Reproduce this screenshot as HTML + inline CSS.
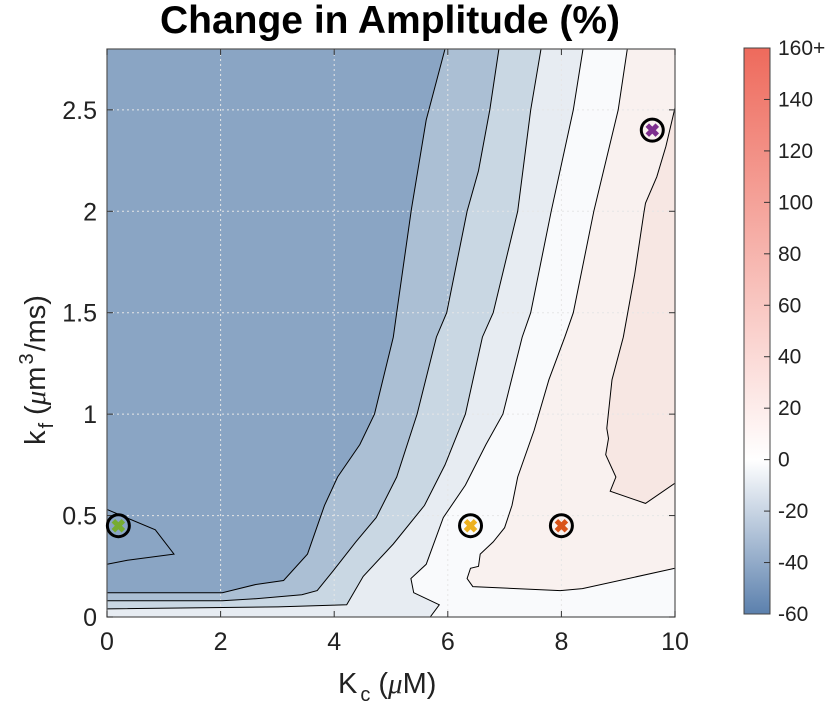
<!DOCTYPE html>
<html><head><meta charset="utf-8"><style>
body{margin:0;background:#fff;}
svg{display:block;font-family:"Liberation Sans",sans-serif;}
</style></head><body>
<svg id="chart" width="830" height="707" viewBox="0 0 830 707">
<defs>
<linearGradient id="cbg" x1="0" y1="1" x2="0" y2="0">
<stop offset="0" stop-color="#5b80ad"/>
<stop offset="0.2727" stop-color="#ffffff"/>
<stop offset="1" stop-color="#ee6a5c"/>
</linearGradient>
<clipPath id="plotclip"><rect x="107" y="49" width="568" height="568"/></clipPath>
</defs>
<text x="390" y="33" text-anchor="middle" font-size="39" font-weight="bold">Change in Amplitude (%)</text>
<g id="plot" clip-path="url(#plotclip)"></g>
<g id="axes"></g>
<g id="markers"></g>
<g id="cbar"></g>
</svg>
<script>
const xTicks=[0,2,4,6,8,10];
const yTicks=[0,0.5,1,1.5,2,2.5];
const cbTicks=[-60,-40,-20,0,20,40,60,80,100,120,140,160];
const cbLabels=["-60","-40","-20","0","20","40","60","80","100","120","140","160+"];
const lineA=[[5.95,2.8],[5.62,2.45],[5.36,2.01],[5.10,1.50],[5.04,1.38],[4.71,1.0],[4.45,0.85],[4.06,0.69],[3.83,0.55],[3.53,0.31],[3.11,0.18],[2.62,0.16],[2.03,0.12],[0,0.12]];
const lineB=[[6.90,2.8],[6.74,2.5],[6.54,2.2],[6.34,2.0],[5.98,1.5],[5.80,1.38],[5.46,1.0],[5.10,0.69],[4.74,0.49],[4.38,0.37],[3.99,0.23],[3.70,0.13],[3.43,0.11],[2.62,0.09],[2.03,0.08],[0,0.08]];
const lineC=[[7.64,2.8],[7.46,2.5],[7.23,2.0],[6.80,1.5],[6.61,1.38],[6.31,1.0],[5.95,0.75],[5.59,0.55],[5.04,0.36],[4.51,0.20],[4.22,0.06],[3.01,0.05],[0,0.04]];
const lineD=[[8.38,2.8],[8.21,2.5],[7.82,2.0],[7.46,1.5],[7.31,1.38],[6.97,1.0],[6.67,0.85],[6.31,0.65],[5.92,0.49],[5.62,0.26],[5.35,0.19],[5.40,0.12],[5.85,0.06],[5.69,0.0]];
const lineE=[[9.16,2.8],[9.0,2.5],[8.57,2.0],[8.21,1.5],[8.06,1.38],[7.78,1.17],[7.52,0.92],[7.23,0.69],[7.13,0.55],[7.0,0.44],[6.8,0.37],[6.57,0.31],[6.54,0.25],[6.4,0.24],[6.34,0.19],[6.44,0.15],[7.98,0.13],[8.37,0.14],[10,0.24]];
const lineF=[[10,2.51],[9.84,2.32],[9.68,2.17],[9.48,2.04],[9.45,1.99],[9.29,1.69],[9.09,1.38],[8.89,1.17],[8.8,0.93],[8.83,0.88],[8.78,0.80],[8.96,0.69],[8.86,0.62],[9.48,0.56],[10,0.66]];
const lineG=[[0,0.53],[0.85,0.43],[1.18,0.31],[0.36,0.28],[0,0.26]];
const markerKc=[0.2,6.4,8.0,9.6];
const markerKf=[0.45,0.45,0.45,2.4];
const markerColors=["#77ac30","#edb120","#d95319","#7e2f8e"];
const markerNames=["marker-green","marker-yellow","marker-orange","marker-purple"];

const X0=107,X1=675,Y0=617,Y1=49;
const sx=v=>X0+(v/10)*(X1-X0);
const sy=v=>Y0-(v/2.8)*(Y0-Y1);
const NS="http://www.w3.org/2000/svg";
function mk(tag,parent,attrs){const e=document.createElementNS(NS,tag);for(const k in attrs)e.setAttribute(k,attrs[k]);parent.appendChild(e);return e;}
const pts=a=>a.map(p=>sx(p[0]).toFixed(1)+","+sy(p[1]).toFixed(1)).join(" ");
const plot=document.getElementById('plot');
let bg=mk('rect',plot,{x:X0,y:Y1,width:X1-X0,height:Y0-Y1,fill:'#f9fafc'});


const regions=[
 [lineD.concat([[0,0],[0,2.8]]),'#e7ecf2','region-minus-10'],
 [lineC.concat([[0,2.8]]),'#c9d7e3','region-minus-20'],
 [lineB.concat([[0,2.8]]),'#abbfd4','region-minus-30'],
 [lineA.concat([[0,2.8]]),'#8aa5c4','region-minus-40'],
 [lineE.concat([[10,2.8]]),'#f9f1ef','region-plus-10'],
 [lineF,'#f7e7e3','region-plus-20']
];
regions.forEach(r=>{
 const e=mk('polygon',plot,{points:pts(r[0]),fill:r[1]});
 
 
});
xTicks.forEach(t=>{const e=mk('line',plot,{x1:sx(t),x2:sx(t),y1:Y1,y2:Y0,stroke:'#e6e6e6','stroke-dasharray':'2,3','stroke-width':1});
 
 });
yTicks.forEach(t=>{const e=mk('line',plot,{x1:X0,x2:X1,y1:sy(t),y2:sy(t),stroke:'#e6e6e6','stroke-dasharray':'2,3','stroke-width':1});
 
 });
[lineA,lineB,lineC,lineD,lineE,lineF,lineG].forEach(l=>{
 const e=mk('polyline',plot,{points:pts(l),fill:'none',stroke:'#000','stroke-width':1});
 
 
});
const axes=document.getElementById('axes');
let fr=mk('rect',axes,{x:X0,y:Y1,width:X1-X0,height:Y0-Y1,fill:'none',stroke:'#555','stroke-width':1.2});


xTicks.forEach(t=>{
 mk('line',axes,{x1:sx(t),x2:sx(t),y1:Y0,y2:Y0-6,stroke:'#333'});
 mk('line',axes,{x1:sx(t),x2:sx(t),y1:Y1,y2:Y1+6,stroke:'#333'});
 const e=mk('text',axes,{x:sx(t),y:Y0+33,'text-anchor':'middle','font-size':25,fill:'#222'});e.textContent=String(t);
 
 
});
yTicks.forEach(t=>{
 mk('line',axes,{x1:X0,x2:X0+6,y1:sy(t),y2:sy(t),stroke:'#333'});
 mk('line',axes,{x1:X1,x2:X1-6,y1:sy(t),y2:sy(t),stroke:'#333'});
 const e=mk('text',axes,{x:X0-10,y:sy(t)+9,'text-anchor':'end','font-size':25,fill:'#222'});e.textContent=String(t);
 
 
});
let xt=mk('text',axes,{x:338,y:693,'font-size':29,fill:'#222'});
xt.innerHTML='K<tspan font-size="20" dx="3" dy="8">c</tspan><tspan dx="8" dy="-8">(</tspan><tspan font-family="Liberation Serif" font-style="italic">μ</tspan>M)';


let yt=mk('text',axes,{x:0,y:0,'font-size':29,fill:'#222',transform:'translate(45,445) rotate(-90)'});
yt.innerHTML='k<tspan font-size="20" dx="2" dy="8">f</tspan><tspan dx="8" dy="-8">(</tspan><tspan font-family="Liberation Serif" font-style="italic">μ</tspan>m<tspan font-size="20" dx="2" dy="-12">3</tspan><tspan dx="2" dy="12">/ms)</tspan>';


const mg=document.getElementById('markers');
markerKc.forEach((k,i)=>{
 const g=mk('g',mg,{});
 
 
 const cx=sx(k),cy=sy(markerKf[i]);
 mk('circle',g,{cx:cx,cy:cy,r:11,fill:'none',stroke:'#000','stroke-width':3});
 mk('path',g,{d:`M${cx-5},${cy-5}L${cx+5},${cy+5}M${cx+5},${cy-5}L${cx-5},${cy+5}`,stroke:markerColors[i],'stroke-width':5});
});
const cb=document.getElementById('cbar');
const CX=744,CW=26,CT=48,CB=614;
const cy2=v=>CB-(v+60)/220*(CB-CT);
let cr=mk('rect',cb,{x:CX,y:CT,width:CW,height:CB-CT,fill:'url(#cbg)',stroke:'#444','stroke-width':1});


cbTicks.forEach((t,i)=>{
 if(i>0&&i<cbTicks.length-1) mk('line',cb,{x1:CX+CW-6,x2:CX+CW,y1:cy2(t),y2:cy2(t),stroke:'#333'});
 const e=mk('text',cb,{x:CX+CW+8,y:cy2(t)+7,'font-size':21,fill:'#222'});e.textContent=cbLabels[i];
 
 
});
</script>
</body></html>
